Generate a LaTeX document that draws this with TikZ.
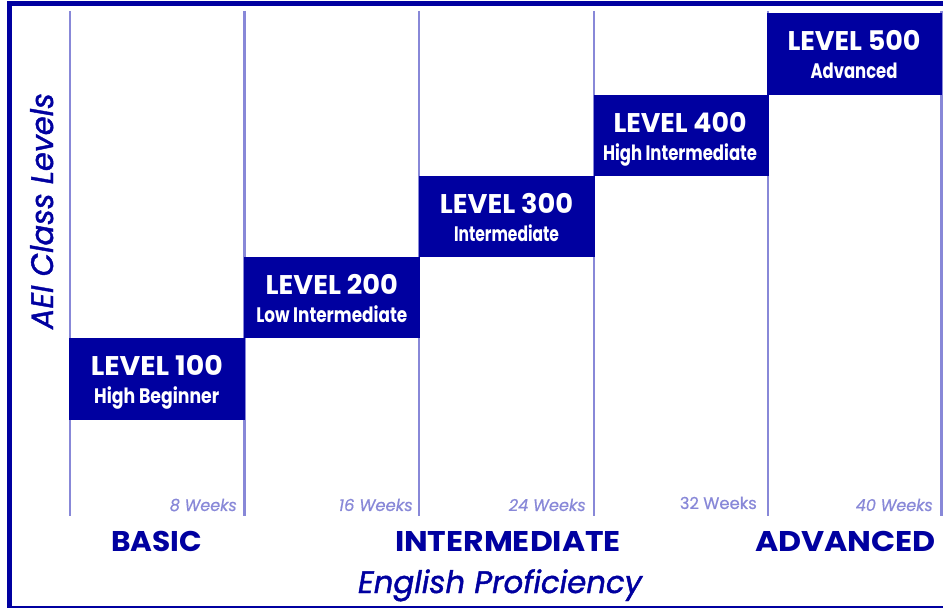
\documentclass[tikz,border=0pt]{standalone}
\usepackage{fontspec}
\setmainfont{Poppins}
\newfontfamily\axfont[FakeBold=1.4]{Poppins}
\newfontfamily\wkfont[FakeBold=0.6]{Poppins}
\usepackage{graphicx}
\definecolor{dblue}{RGB}{0,0,160}
\definecolor{lpurp}{RGB}{136,136,216}
\newcommand{\fitw}[2]{\resizebox{#1}{\height}{#2}}
\begin{document}
\begin{tikzpicture}[x=1pt,y=-1pt,
  block/.style={fill=dblue, draw=none, anchor=north west, minimum height=81.25pt, inner sep=0pt, outer sep=0pt},
  ttl/.style={text=white, font=\fontsize{27}{27}\selectfont\bfseries, anchor=base, inner sep=0pt},
  sub/.style={text=white, font=\fontsize{21}{21}\selectfont\bfseries, anchor=base, inner sep=0pt},
  wk/.style={text=lpurp, font=\wkfont\fontsize{16.5}{16.5}\selectfont, anchor=base east, inner sep=0pt},
  wki/.style={wk, font=\wkfont\fontsize{16.5}{16.5}\selectfont\itshape},
  cat/.style={text=dblue, font=\fontsize{28.5}{28.5}\selectfont\bfseries, anchor=base, inner sep=0pt},
  axislab/.style={text=dblue, font=\axfont\fontsize{31}{31}\selectfont\itshape, anchor=base, inner sep=0pt},
  gridline/.style={draw=lpurp, line width=2.3pt}
]
\useasboundingbox (0,0) rectangle (943,609);
\fill[white] (0,0) rectangle (943,609);
% frame
\fill[dblue] (7,1) rectangle (943,6);
\fill[dblue] (7,1) rectangle (12,608);
\fill[dblue] (7,606.3) rectangle (943,608);
% grid lines
\foreach \x in {70,244.5,419,594,768,941.5} \draw[gridline] (\x,11) -- (\x,516);
% blocks
\node[block, minimum width=175.5pt] (b1) at (69,338.5) {};
\node[block, minimum width=175.5pt] (b2) at (244,257.25) {};
\node[block, minimum width=176pt] (b3) at (418.5,176) {};
\node[block, minimum width=175pt] (b4) at (593.5,94.75) {};
\node[block, minimum width=175pt] (b5) at (767,13.5) {};
% titles
\node[ttl] (t1) at (156.75,376) {\fitw{132pt}{LEVEL 100}};
\node[sub] (s1) at (156.75,404) {\fitw{125pt}{High Beginner}};
\node[ttl] (t2) at (331.75,294.75) {\fitw{132pt}{LEVEL 200}};
\node[sub] (s2) at (331.75,322.75) {\fitw{151pt}{Low Intermediate}};
\node[ttl] (t3) at (506.5,213.5) {\fitw{133pt}{LEVEL 300}};
\node[sub] (s3) at (506.5,241.5) {\fitw{105pt}{Intermediate}};
\node[ttl] (t4) at (680,132.25) {\fitw{133pt}{LEVEL 400}};
\node[sub] (s4) at (680,160.25) {\fitw{154pt}{High Intermediate}};
\node[ttl] (t5) at (854,51) {\fitw{133pt}{LEVEL 500}};
\node[sub] (s5) at (854,79) {\fitw{87pt}{Advanced}};
% weeks
\node[wki] (w1) at (237,511) {\fitw{67pt}{8 Weeks}};
\node[wki] (w2) at (413,511) {\fitw{74pt}{16 Weeks}};
\node[wki] (w3) at (586,511) {\fitw{77pt}{24 Weeks}};
\node[wk]  (w4) at (757,509) {\fitw{77pt}{32 Weeks}};
\node[wki] (w5) at (933,511) {\fitw{77pt}{40 Weeks}};
% categories
\node[cat] (c1) at (156.5,551) {\fitw{91pt}{BASIC}};
\node[cat] (c2) at (508,551) {\fitw{226pt}{INTERMEDIATE}};
\node[cat] (c3) at (845.5,551) {\fitw{181pt}{ADVANCED}};
% axis labels
\node[axislab] (xlab) at (500,593) {\fitw{284pt}{English Proficiency}};
\node[axislab, rotate=90] (ylab) at (53,211) {\fitw{236pt}{AEI Class Levels}};
\end{tikzpicture}
\end{document}
